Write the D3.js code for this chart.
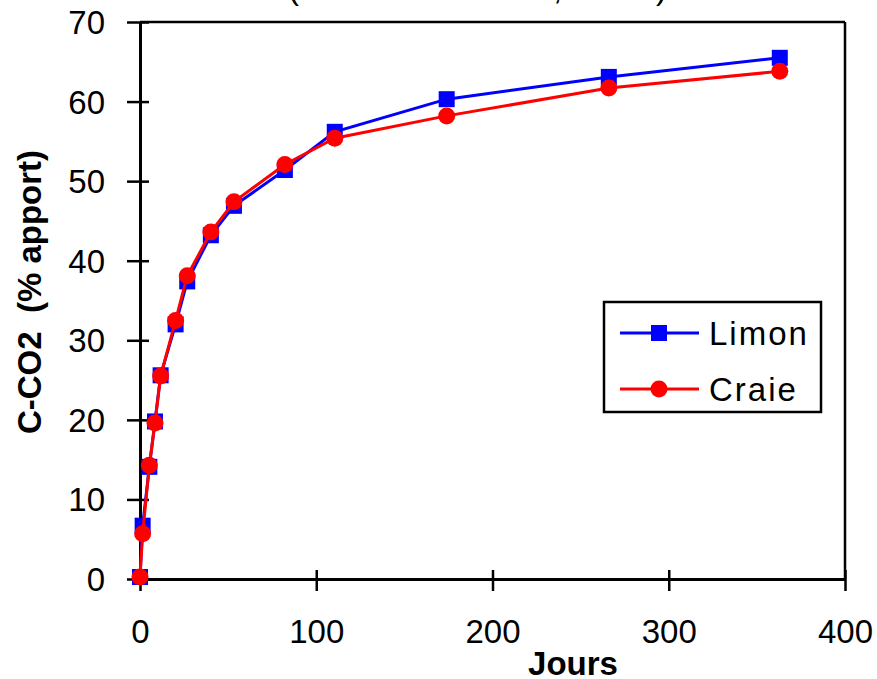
<!DOCTYPE html>
<html>
<head>
<meta charset="utf-8">
<script src="https://cdn.jsdelivr.net/npm/d3@7/dist/d3.min.js"></script>
<style>
  html, body { margin: 0; padding: 0; background: #fff; }
  svg { display: block; }
  text { font-family: "Liberation Sans", Arial, sans-serif; fill: #000; }
</style>
</head>
<body>
<svg id="chart" width="877" height="679"></svg>
<script>
// ---- data ----
const days = [0, 1.5, 5.3, 8.5, 11.7, 20.2, 26.8, 40.2, 53.3, 82.2, 110.5, 174, 266, 363];
const limon = [0.25, 6.7, 14.1, 19.8, 25.6, 32.0, 37.4, 43.2, 46.9, 51.4, 56.2, 60.3, 63.1, 65.5];
const craie = [0.25, 5.7, 14.3, 19.6, 25.5, 32.5, 38.1, 43.6, 47.4, 52.1, 55.4, 58.2, 61.7, 63.8];
const seriesNames = ["Limon", "Craie"];
const xTicks = [0, 100, 200, 300, 400];
const yTicks = [0, 10, 20, 30, 40, 50, 60, 70];
const xTitle = "Jours";
const yTitle = "C-CO2  (% apport)";

const svg = d3.select("#chart");
const pLeft = 140, pRight = 845, pTop = 22, pBottom = 579;

const x = d3.scaleLinear().domain([0, 400]).range([pLeft, pRight]);
const y = d3.scaleLinear().domain([0, 70]).range([pBottom, pTop]);

// partial title (cut off at the top, as in the reference)
const title = svg.append("text").attr("y", -1).style("font-size", "33px");
title.append("tspan").attr("x", 288).text("(");
title.append("tspan").attr("x", 553).text(",");
title.append("tspan").attr("x", 656).text(")");

// frame top/right
svg.append("line").attr("x1", pLeft).attr("x2", pRight).attr("y1", pTop).attr("y2", pTop)
  .attr("stroke", "#000").attr("stroke-width", 2.5);
svg.append("line").attr("x1", pRight).attr("x2", pRight).attr("y1", pTop).attr("y2", pBottom)
  .attr("stroke", "#000").attr("stroke-width", 2.5);

// y axis
const gy = svg.append("g").attr("transform", `translate(${pLeft},0)`)
  .call(d3.axisLeft(y).tickValues(yTicks).tickSize(13).tickSizeOuter(0).tickPadding(22));
gy.select(".domain").attr("stroke-width", 3);
gy.selectAll(".tick line").attr("x1", 9).attr("stroke-width", 2.5);
gy.selectAll(".tick text").style("font-size", "33px").style("font-family", '"Liberation Sans", Arial, sans-serif').attr("dy", "0.35em");

// x axis
const gx = svg.append("g").attr("transform", `translate(0,${pBottom})`)
  .call(d3.axisBottom(x).tickValues(xTicks).tickSize(12).tickSizeOuter(0).tickPadding(28.6));
gx.select(".domain").attr("stroke-width", 3);
gx.selectAll(".tick line").attr("y1", -9).attr("stroke-width", 2.5);
gx.selectAll(".tick text").style("font-size", "33px").style("font-family", '"Liberation Sans", Arial, sans-serif');

// axis titles
svg.append("text").attr("x", 573).attr("y", 675).attr("text-anchor", "middle")
  .style("font-size", "33px").style("font-weight", "bold").text(xTitle);
svg.append("text").attr("transform", "translate(41,292) rotate(-90)").attr("text-anchor", "middle")
  .style("font-size", "33px").style("font-weight", "bold").style("white-space", "pre")
  .attr("xml:space", "preserve").text(yTitle);

// series
const line = d3.line().x(d => x(d[0])).y(d => y(d[1]));
const dLimon = days.map((d, i) => [d, limon[i]]);
const dCraie = days.map((d, i) => [d, craie[i]]);
const blue = "#0000ff", red = "#ff0000";
const sq = 16, rad = 8.5;

svg.append("path").datum(dLimon).attr("d", line).attr("fill", "none").attr("stroke", blue).attr("stroke-width", 3);
svg.selectAll(".sq").data(dLimon).enter().append("rect")
  .attr("x", d => x(d[0]) - sq / 2).attr("y", d => y(d[1]) - sq / 2)
  .attr("width", sq).attr("height", sq).attr("fill", blue);

svg.append("path").datum(dCraie).attr("d", line).attr("fill", "none").attr("stroke", red).attr("stroke-width", 3);
svg.selectAll(".ci").data(dCraie).enter().append("circle")
  .attr("cx", d => x(d[0])).attr("cy", d => y(d[1])).attr("r", rad).attr("fill", red);

// legend
const lg = svg.append("g");
lg.append("rect").attr("x", 604).attr("y", 302).attr("width", 217).attr("height", 110)
  .attr("fill", "#fff").attr("stroke", "#000").attr("stroke-width", 2.5);
const rows = [{name: seriesNames[0], color: blue, ly: 333, shape: "sq"}, {name: seriesNames[1], color: red, ly: 389, shape: "ci"}];
rows.forEach(rw => {
  lg.append("line").attr("x1", 620).attr("x2", 699).attr("y1", rw.ly).attr("y2", rw.ly)
    .attr("stroke", rw.color).attr("stroke-width", 3);
  if (rw.shape === "sq") {
    lg.append("rect").attr("x", 659 - sq / 2).attr("y", rw.ly - sq / 2).attr("width", sq).attr("height", sq).attr("fill", rw.color);
  } else {
    lg.append("circle").attr("cx", 659).attr("cy", rw.ly).attr("r", rad).attr("fill", rw.color);
  }
  lg.append("text").attr("x", 709).attr("y", rw.ly + 11.5).style("font-size", "33px")
    .style("letter-spacing", "2px").text(rw.name);
});
</script>
</body>
</html>
